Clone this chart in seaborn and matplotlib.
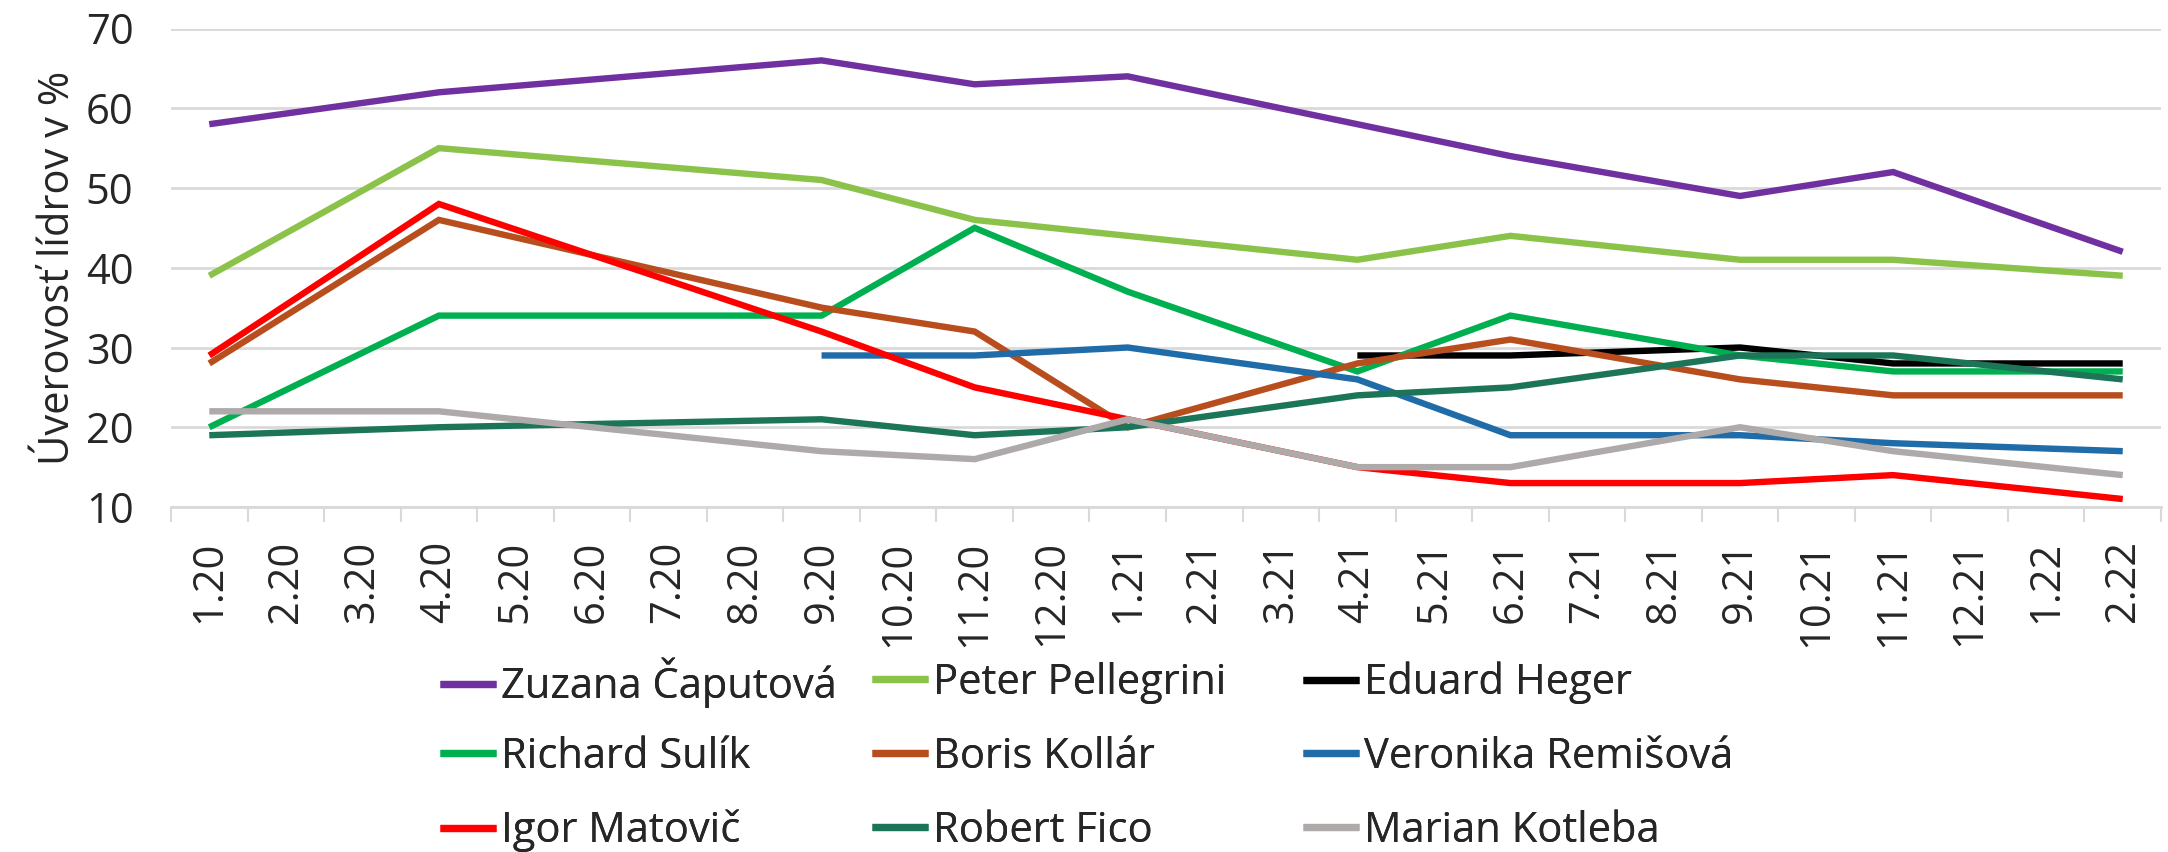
import numpy as np
import pandas as pd
import matplotlib
matplotlib.use("Agg")
import matplotlib.pyplot as plt
import seaborn as sns

# ---- data ----
categories = ["1.20", "2.20", "3.20", "4.20", "5.20", "6.20", "7.20", "8.20", "9.20",
              "10.20", "11.20", "12.20", "1.21", "2.21", "3.21", "4.21", "5.21", "6.21",
              "7.21", "8.21", "9.21", "10.21", "11.21", "12.21", "1.22", "2.22"]
survey_months = ["1.20", "4.20", "9.20", "11.20", "1.21", "4.21", "6.21", "9.21", "11.21", "2.22"]

caputova = [58, 62, 66, 63, 64, 58, 54, 49, 52, 42]
pellegrini = [39, 55, 51, 46, 44, 41, 44, 41, 41, 39]
heger = [None, None, None, None, None, 29, 29, 30, 28, 28]
sulik = [20, 34, 34, 45, 37, 27, 34, 29, 27, 27]
kollar = [28, 46, 35, 32, 20, 28, 31, 26, 24, 24]
remisova = [None, None, 29, 29, 30, 26, 19, 19, 18, 17]
matovic = [29, 48, 32, 25, 21, 15, 13, 13, 14, 11]
fico = [19, 20, 21, 19, 20, 24, 25, 29, 29, 26]
kotleba = [22, 22, 17, 16, 21, 15, 15, 20, 17, 14]

names = ["Zuzana Čaputová", "Peter Pellegrini", "Eduard Heger", "Richard Sulík",
         "Boris Kollár", "Veronika Remišová", "Igor Matovič", "Robert Fico", "Marian Kotleba"]
series = [caputova, pellegrini, heger, sulik, kollar, remisova, matovic, fico, kotleba]
colors = ["#7030A0", "#8BC34A", "#000000", "#00B050", "#B84E1E",
          "#1F6CA8", "#FF0000", "#1C7558", "#AEAAAA"]

rows = []
for name, vals in zip(names, series):
    for m, v in zip(survey_months, vals):
        if v is not None:
            rows.append({"name": name, "x": categories.index(m), "value": v})
df = pd.DataFrame(rows)

# ---- figure ----
sns.set_theme(style="white")
plt.rcParams["font.family"] = ["Open Sans", "DejaVu Sans"]
FS = 30
LW = 4.6

W, H = 2168, 852
left, right, top, bottom = 171, 2161, 28.5, 507
fig = plt.figure(figsize=(W / 100, H / 100), dpi=100)
ax = fig.add_axes([left / W, (H - bottom) / H, (right - left) / W, (bottom - top) / H])

sns.lineplot(data=df, x="x", y="value", hue="name", hue_order=names,
             palette=dict(zip(names, colors)), ax=ax, linewidth=LW,
             sort=True, estimator=None, legend=True)
for ln in ax.lines:
    ln.set_linewidth(LW)
    ln.set_solid_joinstyle("miter")
    ln.set_solid_capstyle("butt")

ax.set_xlim(-0.5, len(categories) - 0.5)
ax.set_ylim(10, 70)
ax.set_yticks(range(10, 71, 10))
ax.grid(axis="y", color="#D9D9D9", linewidth=2)
ax.set_axisbelow(True)
for s in ["left", "right", "top"]:
    ax.spines[s].set_visible(False)
ax.spines["bottom"].set_color("#D9D9D9")
ax.spines["bottom"].set_linewidth(2)

ax.set_xticks(range(len(categories)))
ax.set_xticklabels(categories, rotation=90, fontsize=FS, va="top", ha="center")
ax.set_xticks(np.arange(-0.5, len(categories), 1.0), minor=True)
ax.tick_params(axis="x", which="major", length=0, pad=24)
ax.tick_params(axis="x", which="minor", length=11, width=1.5, color="#D9D9D9", bottom=True)
ax.tick_params(axis="y", length=0, labelsize=FS, pad=27)
ax.set_xlabel("")
ax.set_ylabel("Úverovosť lídrov v %", fontsize=FS, labelpad=5)

handles, labels = ax.get_legend_handles_labels()
ax.get_legend().remove()
col_x = [440, 872, 1303]
row_y = [683, 757, 831]
for i, (h, l) in enumerate(zip(handles, labels)):
    r, c = divmod(i, 3)
    leg = fig.legend([h], [l], loc="center left",
                     bbox_to_anchor=(col_x[c] / W, 1 - row_y[r] / H),
                     frameon=False, fontsize=FS, handlelength=1.35, handletextpad=0.12,
                     borderpad=0, borderaxespad=0)
    for line in leg.get_lines():
        line.set_linewidth(LW + 0.6)
        line.set_solid_capstyle("butt")
    fig.add_artist(leg)

fig.savefig("out.png", dpi=100)
